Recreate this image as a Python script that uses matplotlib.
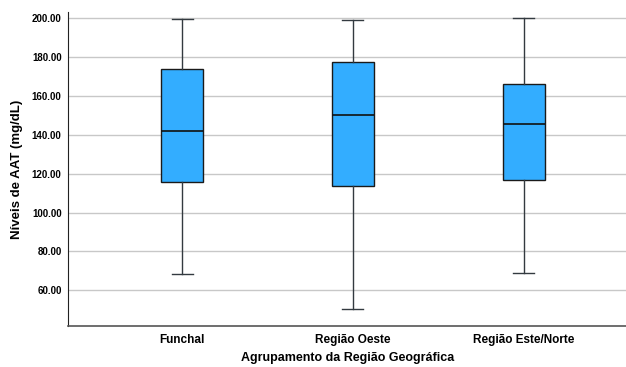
import matplotlib
matplotlib.use("Agg")
import matplotlib.pyplot as plt

plt.rcParams['font.family'] = ['Liberation Sans', 'DejaVu Sans']

# dados (mínimo, Q1, mediana, Q3, máximo)
regioes = ["Funchal", "Região Oeste", "Região Este/Norte"]
minimos = [68.4, 50.6, 68.9]
q1 = [115.8, 113.7, 116.8]
medianas = [141.8, 150.2, 145.4]
q3 = [174.2, 177.6, 166.3]
maximos = [199.5, 199.0, 200.0]
yticks = [60, 80, 100, 120, 140, 160, 180, 200]

stats = []
for i in range(len(regioes)):
    stats.append(dict(label=regioes[i], whislo=minimos[i], q1=q1[i], med=medianas[i],
                      q3=q3[i], whishi=maximos[i], fliers=[]))

fig = plt.figure(figsize=(6.26, 3.67), dpi=100)
ax = fig.add_axes([0.1094, 0.1117, 0.8906, 0.8556])

ax.bxp(stats, positions=range(len(regioes)), widths=0.246, patch_artist=True,
       showfliers=False,
       boxprops=dict(facecolor='#33adff', edgecolor='#1a1a1a', linewidth=1.0),
       medianprops=dict(color='#111111', linewidth=1.2),
       whiskerprops=dict(color='#333a40', linewidth=1.0),
       capprops=dict(color='#333a40', linewidth=1.0),
       capwidths=0.123, zorder=3)

ax.set_xlim(-0.667, 2.6)
ax.set_ylim(41.6, 203.3)
ax.set_yticks(yticks)
ax.set_yticklabels([f"{v:.2f}" for v in yticks], fontsize=7, fontweight='bold')
ax.set_xticks(range(len(regioes)))
ax.set_xticklabels(regioes, fontsize=8.5, fontweight='bold')
ax.tick_params(axis='both', length=0, pad=5)
ax.tick_params(axis='x', pad=6)
ax.grid(axis='y', color='#c8c8c8', linewidth=1.0, zorder=0)
ax.set_axisbelow(True)
for s in ['top', 'right']:
    ax.spines[s].set_visible(False)
ax.spines['left'].set_color('#222222')
ax.spines['bottom'].set_color('#555555')
ax.spines['bottom'].set_linewidth(1.2)

ax.set_ylabel("Níveis de AAT (mg/dL)", fontsize=9.5, fontweight='bold', labelpad=6)
ax.set_xlabel("Agrupamento da Região Geográfica", fontsize=9, fontweight='bold', labelpad=4)

fig.savefig("out.png", dpi=100)
